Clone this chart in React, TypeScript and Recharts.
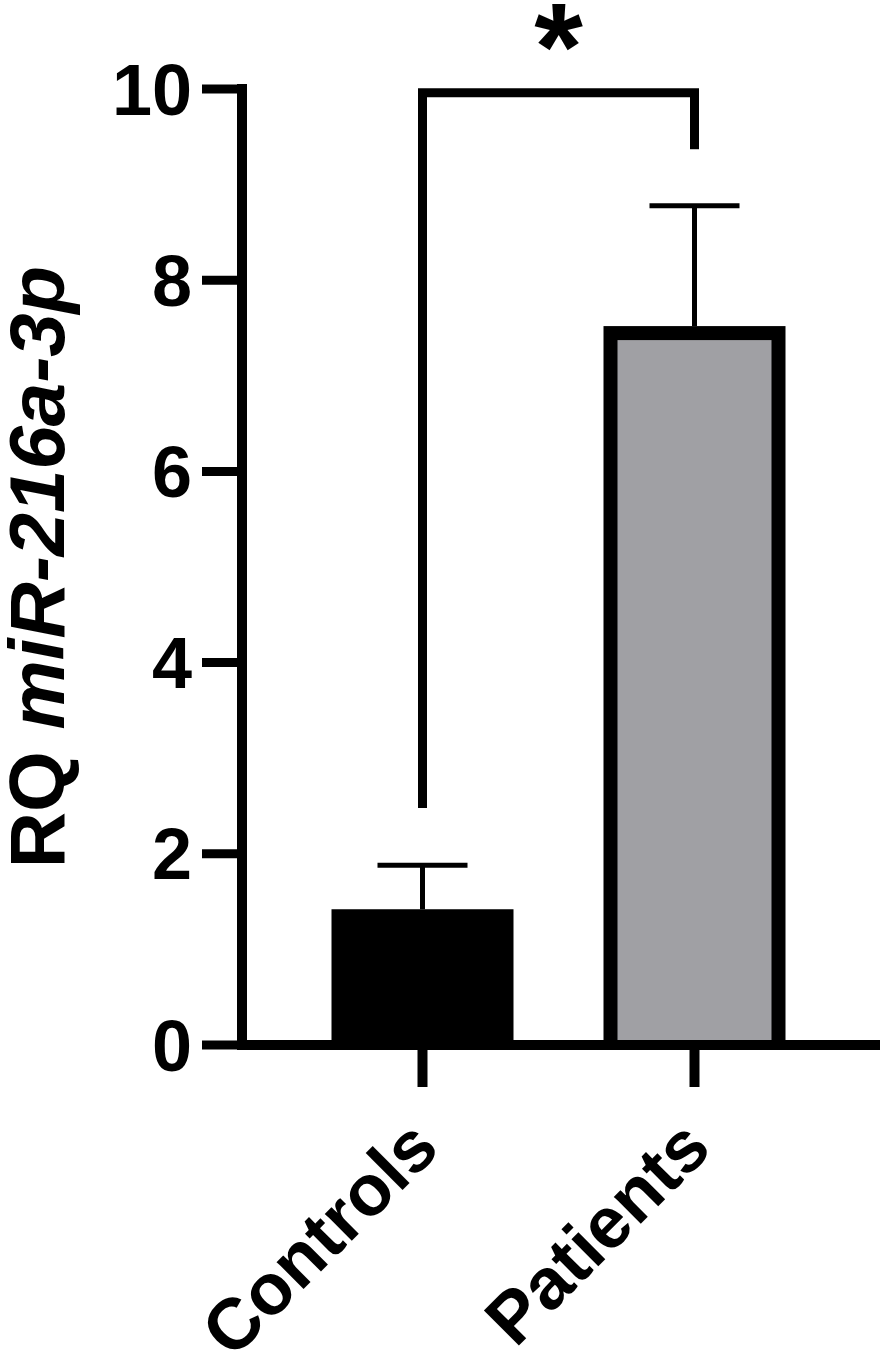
import React from 'react';
import {
  BarChart,
  Bar,
  XAxis,
  YAxis,
  Cell,
  ReferenceLine,
} from 'recharts';

const categories = ['Controls', 'Patients'];
const means = [1.42, 7.52];
const sdUp = [0.46, 1.26];
const yTicks = [0, 2, 4, 6, 8, 10];

// significance bracket (values on the y scale)
const bracketTop = 9.96;
const bracketLeftEnd = 2.48;
const bracketRightEnd = 9.37;
const sigLabel = '*';

const data = categories.map((name, i) => ({
  name,
  mean: means[i],
  sd: sdUp[i],
}));

const FONT = '"Liberation Sans", Arial, Helvetica, sans-serif';
const FILLS = ['#000000', '#a0a0a4'];
const BORDER = 14;

// bar + upward-only error whisker (scaled with the bar's own px/unit)
const BarShape = (props: any) => {
  const { x, y, width, height, index, payload } = props;
  const pxPerUnit = payload.mean ? height / payload.mean : 0;
  const cx = x + width / 2;
  const top = y - payload.sd * pxPerUnit;
  const whisker = (
    <g stroke="#000" strokeWidth={5}>
      <line x1={cx} y1={y} x2={cx} y2={top} />
      <line x1={cx - 45} y1={top} x2={cx + 45} y2={top} />
    </g>
  );
  if (index === 1) {
    return (
      <g>
        <rect x={x} y={y} width={width} height={height} fill="#000" />
        <rect
          x={x + BORDER}
          y={y + BORDER}
          width={width - 2 * BORDER}
          height={Math.max(0, height - BORDER)}
          fill={FILLS[1]}
        />
        {whisker}
      </g>
    );
  }
  return (
    <g>
      <rect x={x} y={y} width={width} height={height} fill={FILLS[0]} />
      {whisker}
    </g>
  );
};

const XTick = (props: any) => {
  const { x, y, payload } = props;
  const ax = x + 19;
  const ay = y + 64;
  return (
    <text
      x={ax}
      y={ay}
      textAnchor="end"
      transform={`rotate(-45, ${ax}, ${ay})`}
      fontFamily={FONT}
      fontWeight={700}
      fontSize={72}
      fill="#000"
    >
      {payload.value}
    </text>
  );
};

const YLabel = (props: any) => {
  const { viewBox } = props;
  const cy = viewBox.y + viewBox.height / 2;
  const bx = 64;
  return (
    <text
      x={bx}
      y={cy}
      textAnchor="middle"
      transform={`rotate(-90, ${bx}, ${cy})`}
      fontFamily={FONT}
      fontWeight={700}
      fontSize={78}
      fill="#000"
    >
      <tspan>RQ </tspan>
      <tspan fontStyle="italic">miR-216a-3p</tspan>
    </text>
  );
};

const StarLabel = (props: any) => {
  const { viewBox } = props;
  const cx = viewBox.x + (viewBox.width || 0) / 2;
  return (
    <text
      x={cx}
      y={viewBox.y - 3}
      textAnchor="middle"
      fontFamily={FONT}
      fontWeight={700}
      fontSize={125}
      fill="#000"
    >
      {sigLabel}
    </text>
  );
};

export default function App() {
  const line = { stroke: '#000', strokeWidth: 9 };
  return (
    <div style={{ position: 'absolute', left: 0, top: 0, background: '#fff' }}>
      <BarChart
        width={886}
        height={1355}
        data={data}
        margin={{ top: 89, right: 6, bottom: 0, left: 0 }}
      >
        <Bar dataKey="mean" barSize={182} shape={<BarShape />} isAnimationActive={false}>
          {data.map((d, i) => (
            <Cell key={d.name} fill={FILLS[i]} />
          ))}
        </Bar>
        <XAxis
          dataKey="name"
          height={310}
          padding={{ left: 44.5, right: 49.5 }}
          axisLine={{ stroke: '#000', strokeWidth: 10 }}
          tickLine={{ stroke: '#000', strokeWidth: 10 }}
          tickSize={42}
          tickMargin={0}
          interval={0}
          tick={<XTick />}
        />
        <YAxis
          width={242}
          domain={[0, 10]}
          ticks={yTicks}
          interval={0}
          axisLine={{ stroke: '#000', strokeWidth: 10, strokeLinecap: 'square' }}
          tickLine={{ stroke: '#000', strokeWidth: 9 }}
          tickSize={40}
          tickMargin={10}
          tick={{ fontSize: 72, fontWeight: 700, fill: '#000', fontFamily: FONT }}
          label={<YLabel />}
        />
        <ReferenceLine
          segment={[
            { x: categories[0], y: bracketLeftEnd },
            { x: categories[0], y: bracketTop },
          ]}
          ifOverflow="visible"
          {...line}
        />
        <ReferenceLine
          segment={[
            { x: categories[1], y: bracketRightEnd },
            { x: categories[1], y: bracketTop },
          ]}
          ifOverflow="visible"
          {...line}
        />
        <ReferenceLine
          segment={[
            { x: categories[0], y: bracketTop },
            { x: categories[1], y: bracketTop },
          ]}
          ifOverflow="visible"
          strokeLinecap="square"
          {...line}
          label={<StarLabel />}
        />
      </BarChart>
    </div>
  );
}
